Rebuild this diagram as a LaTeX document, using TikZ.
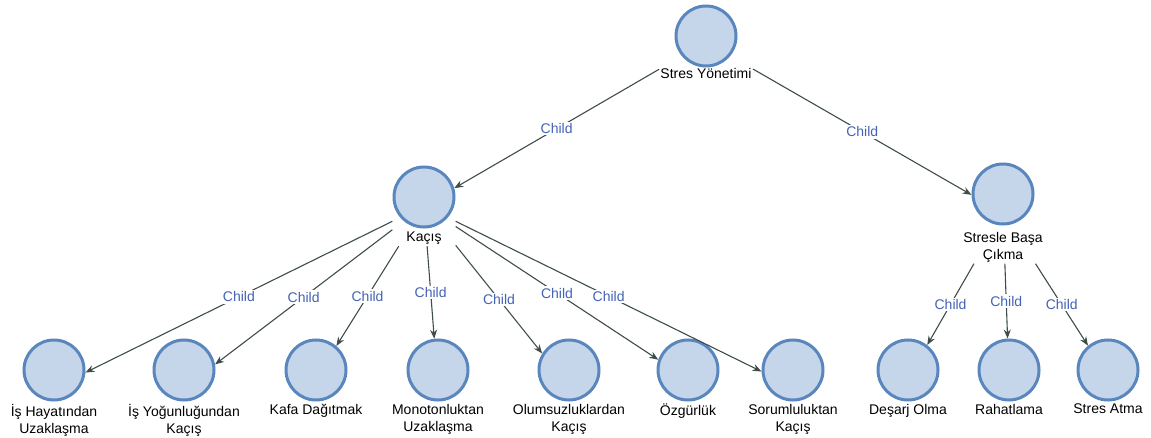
\documentclass[tikz,border=0pt]{standalone}
\usepackage{fontspec}
\setmainfont{Liberation Sans}
\usetikzlibrary{arrows.meta,fit,intersections}
\definecolor{nodefill}{HTML}{C5D5EA}
\definecolor{nodeline}{HTML}{5A86BE}
\definecolor{edgecol}{HTML}{3E4D4A}
\definecolor{childcol}{HTML}{4363B5}
% a link runs between the centres of the two groups (circle + caption),
% leaving the source group's box and stopping at the target's ring
\newcommand\childlink[2]{%
  \path[name path=ring] (#2-c.center) circle[radius=31.5pt];
  \path[name path=ray] (#1.center) -- (#2.center);
  \draw[link, name intersections={of=ring and ray, by=tip}]
    (#1) -- node[rel] {Child} (tip);
}
\begin{document}
\begin{tikzpicture}[x=1pt,y=-1pt,
  circ/.style={circle, draw=nodeline, fill=nodefill, line width=3pt, minimum size=60pt, inner sep=0pt},
  lbl/.style={font=\fontsize{14}{17}\selectfont, align=center, inner sep=1pt, text=black, anchor=north},
  grp/.style={inner sep=0pt},
  link/.style={draw=edgecol, line width=1.1pt, -{Stealth[length=9pt,width=7pt]}},
  rel/.style={font=\fontsize{14}{17}\selectfont, text=childcol, fill=white, inner sep=1.5pt}]
\useasboundingbox (0,0) rectangle (1151,438);

% top level
\node[circ] (root-c) at (706,36) {};
\node[lbl] (root-l) at (706,67) {Stres Yönetimi};
\node[grp, fit=(root-c)(root-l)] (root) {};

% second level
\node[circ] (kacis-c) at (424,197) {};
\node[lbl] (kacis-l) at (424,231) {Kaçış};
\node[grp, fit=(kacis-c)(kacis-l)] (kacis) {};

\node[circ] (basa-c) at (1003,194) {};
\node[lbl] (basa-l) at (1003,231) {Stresle Başa\\Çıkma};
\node[grp, fit=(basa-c)(basa-l)] (basa) {};

% leaves under Kaçış
\node[circ] (k1-c) at (54,370) {};
\node[lbl] (k1-l) at (54,403) {İş Hayatından\\Uzaklaşma};
\node[circ] (k2-c) at (184,370) {};
\node[lbl] (k2-l) at (184,403) {İş Yoğunluğundan\\Kaçış};
\node[circ] (k3-c) at (316,370) {};
\node[lbl] (k3-l) at (316,403) {Kafa Dağıtmak};
\node[circ] (k4-c) at (438,370) {};
\node[lbl] (k4-l) at (438,403) {Monotonluktan\\Uzaklaşma};
\node[circ] (k5-c) at (569,370) {};
\node[lbl] (k5-l) at (569,403) {Olumsuzluklardan\\Kaçış};
\node[circ] (k6-c) at (688,370) {};
\node[lbl] (k6-l) at (688,403) {Özgürlük};
\node[circ] (k7-c) at (793,370) {};
\node[lbl] (k7-l) at (793,403) {Sorumluluktan\\Kaçış};

% leaves under Stresle Başa Çıkma
\node[circ] (s1-c) at (908,370) {};
\node[lbl] (s1-l) at (908,403) {Deşarj Olma};
\node[circ] (s2-c) at (1009,370) {};
\node[lbl] (s2-l) at (1009,403) {Rahatlama};
\node[circ] (s3-c) at (1108,370) {};
\node[lbl] (s3-l) at (1108,403) {Stres Atma};

% groups for the leaves
\foreach \n in {k1,k2,k3,k4,k5,k6,k7,s1,s2,s3}
  \node[grp, fit=(\n-c)(\n-l)] (\n) {};

% links
\childlink{root}{kacis}
\childlink{root}{basa}
\foreach \k in {k1,k2,k3,k4,k5,k6,k7}
  {\childlink{kacis}{\k}}
\foreach \s in {s1,s2,s3}
  {\childlink{basa}{\s}}
\end{tikzpicture}
\end{document}
